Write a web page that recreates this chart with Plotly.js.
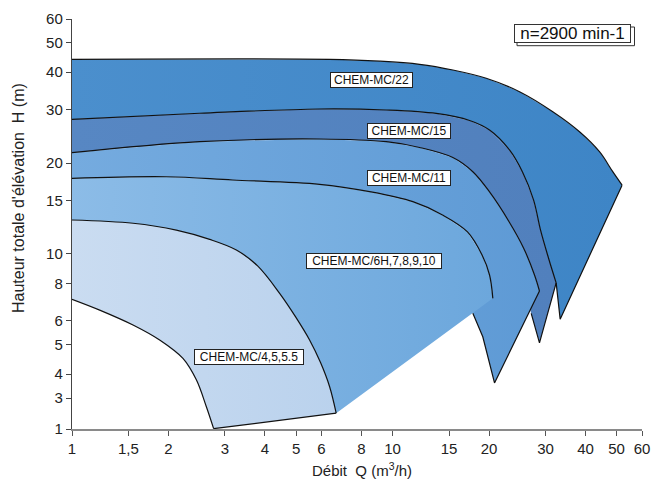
<!DOCTYPE html>
<html>
<head>
<meta charset="utf-8">
<script src="https://cdn.plot.ly/plotly-3.0.1.min.js"></script>
<style>html,body{margin:0;padding:0;background:#fff}#chart{width:654px;height:479px}</style>
</head>
<body>
<div id="chart"></div>
<script>
// Pump families (largest first)
const families = ["CHEM-MC/22", "CHEM-MC/15", "CHEM-MC/11", "CHEM-MC/6H,7,8,9,10", "CHEM-MC/4,5,5.5"];

// Upper (max. impeller) curves, Q in m3/h, H in m (last point = right tip)
const topQ22 = [1, 6.36, 9.11, 12.14, 15.42, 19.60, 24.89, 31.61, 38.3, 44.21, 48.63, 52.0];
const topH22 = [44.1, 44.1, 43.5, 42.47, 40.67, 38.18, 34.47, 29.59, 25.40, 21.81, 18.73, 16.9];
const topQ15 = [1, 2.50, 5.92, 9.56, 13.69, 17.39, 20.07, 23.16, 25.43, 27.53, 28.94, 30.65, 32.39];
const topH15 = [27.93, 29.24, 30.21, 29.98, 29.20, 27.67, 25.73, 22.10, 18.68, 15.10, 12.01, 9.70, 8.02];
const topQ11 = [1, 2.50, 5.92, 9.56, 12.14, 15.42, 17.80, 20.07, 23.09, 25.62, 27.72, 28.73];
const topH11 = [21.65, 23.54, 24.03, 23.54, 22.53, 20.87, 18.73, 16.05, 12.79, 10.47, 8.52, 7.54];
const topQ6 = [1, 1.97, 3.17, 5.92, 8.48, 11.57, 14.32, 17.13, 19.02, 20.07, 20.55];
const topH6 = [17.81, 18.02, 17.58, 17.01, 16.08, 14.90, 13.46, 11.83, 9.92, 8.52, 7.13];
const topQ4 = [1, 1.55, 2.116, 2.688, 3.256, 3.793, 4.443, 4.984, 5.51, 5.965, 6.36, 6.67];
const topH4 = [12.96, 12.64, 12.0, 11.18, 10.31, 9.13, 7.41, 6.19, 5.19, 4.36, 3.64, 2.97];

// Visible lower edges: bottom vertex, then min. impeller edge going back up-left
const botQ22 = [33.33];
const botH22 = [6.08];
const botQ15 = [28.73, 27.07];
const botH15 = [5.08, 6.36];
const botQ11 = [20.80, 19.12, 17.80];
const botH11 = [3.74, 5.32, 6.36];
const botQ6 = [];
const botH6 = [];
const botQ4 = [2.766, 2.625, 2.443, 2.219, 1.877, 1.55, 1.22, 1];
const botH4 = [2.64, 3.12, 3.83, 4.51, 5.19, 5.82, 6.52, 7.08];
// where a lower edge continues hidden under the next family
const hidQ = [[], [25.80], [16.18], [], []];
const hidH = [[], [7.60], [7.04], [], []];

// Axis ticks
const xTickVals = [1, 1.5, 2, 3, 4, 5, 6, 8, 10, 15, 20, 30, 40, 50, 60];
const xTickText = ["1", "1,5", "2", "3", "4", "5", "6", "8", "10", "15", "20", "30", "40", "50", "60"];
// the printed scale is compressed below 4: "1" and "3" sit at these positions of the log scale
const yTickVals = [2.633, 3.33, 4, 5, 6, 8, 10, 15, 20, 30, 40, 50, 60];
const yTickText = ["1", "3", "4", "5", "6", "8", "10", "15", "20", "30", "40", "50", "60"];

const fills = ["#468bc9", "#5583c0", "#69a4db", "#80b6e4", "#c4d9ef"];
const gradLeft = ["#4b8fcd", "#5787c3", "#75abdf", "#8cbce7", "#cadcf1"];
const gradRight = ["#3e85c6", "#5180bd", "#5e9ad5", "#6ca7dc", "#bad2ed"];

const tops = [[topQ22, topH22], [topQ15, topH15], [topQ11, topH11], [topQ6, topH6], [topQ4, topH4]];
const bots = [[botQ22, botH22], [botQ15, botH15], [botQ11, botH11], [botQ6, botH6], [botQ4, botH4]];
const N = families.length;

const traces = [];
// filled areas, back to front
families.forEach((name, i) => {
  let xs = tops[i][0].concat(bots[i][0], hidQ[i]);
  let ys = tops[i][1].concat(bots[i][1], hidH[i]);
  if (i < N - 1) {
    xs = xs.concat(tops[i + 1][0].slice().reverse());
    ys = ys.concat(tops[i + 1][1].slice().reverse());
  }
  traces.push({
    type: "scatter", mode: "lines", name: name,
    x: xs, y: ys, fill: "toself", fillcolor: fills[i],
    fillgradient: {type: "horizontal", colorscale: [[0, gradLeft[i]], [1, gradRight[i]]]},
    line: {width: 0, color: fills[i]}, hoverinfo: "skip", showlegend: false
  });
});

const lineStyle = {color: "#111", width: 1.2};
// outlines: smooth impeller curves, straight edges
families.forEach((name, i) => {
  const tq = tops[i][0], th = tops[i][1];
  traces.push({type: "scatter", mode: "lines", x: tq, y: th,
    line: Object.assign({shape: "spline", smoothing: 1}, lineStyle), hoverinfo: "skip", showlegend: false});
  let eq = [tq[tq.length - 1]], eh = [th[th.length - 1]];
  if (i === N - 1) {
    eq.push(bots[i][0][0]); eh.push(bots[i][1][0]);
  } else {
    eq = eq.concat(bots[i][0]); eh = eh.concat(bots[i][1]);
    if (i === 0) { // min edge of the largest family runs up to the next tip
      const nq = tops[1][0], nh = tops[1][1];
      eq.push(nq[nq.length - 1]); eh.push(nh[nh.length - 1]);
    }
  }
  traces.push({type: "scatter", mode: "lines", x: eq, y: eh,
    line: Object.assign({shape: "linear"}, lineStyle), hoverinfo: "skip", showlegend: false});
});
// lower curve of the smallest family
traces.push({type: "scatter", mode: "lines", x: botQ4, y: botH4,
  line: Object.assign({shape: "spline", smoothing: 1}, lineStyle), hoverinfo: "skip", showlegend: false});

const F = "Liberation Sans, Arial, Helvetica, sans-serif";
const px = v => (v - 72) / 570;
const py = v => (429 - v) / 410;

function box(text, cx, cy, w) {
  return {
    xref: "paper", yref: "paper", x: px(cx), y: py(cy), xanchor: "center", yanchor: "middle",
    text: text, showarrow: false,
    font: {family: F, size: 12, color: "#111"}, bgcolor: "#fff", bordercolor: "#222",
    borderwidth: 1, borderpad: 1, width: w, height: 12, align: "center"
  };
}

const layout = {
  width: 654, height: 479,
  margin: {l: 72, r: 12, t: 19, b: 50},
  paper_bgcolor: "#fff", plot_bgcolor: "#fff",
  showlegend: false,
  xaxis: {
    type: "log", range: [0, Math.log10(60)],
    tickvals: xTickVals, ticktext: xTickText,
    showgrid: false, zeroline: false,
    showline: true, linecolor: "#8a8a8a", linewidth: 2,
    ticks: "outside", ticklen: 5, tickcolor: "#555", tickwidth: 1,
    tickfont: {family: F, size: 15, color: "#222"}
  },
  yaxis: {
    type: "log", range: [Math.log10(2.633), Math.log10(60)],
    tickvals: yTickVals, ticktext: yTickText,
    showgrid: false, zeroline: false,
    showline: true, linecolor: "#444", linewidth: 1.2,
    ticks: "outside", ticklen: 5, tickcolor: "#444", tickwidth: 1,
    tickfont: {family: F, size: 15, color: "#222"}
  },
  shapes: [
    {type: "rect", xref: "paper", yref: "paper",
     x0: px(517), x1: px(634.5), y0: py(45.7), y1: py(27),
     line: {color: "#333", width: 1}, fillcolor: "#fff", layer: "above"}
  ],
  annotations: [
    box(families[0], 371.5, 79.5, 79),
    box(families[1], 408.8, 130.8, 80),
    box(families[2], 408.8, 177.5, 80),
    box(families[3], 373.7, 261.2, 132),
    box(families[4], 249.2, 356.5, 106),
    {xref: "paper", yref: "paper", x: px(572.8), y: py(33.3), xanchor: "center", yanchor: "middle",
     text: "n=2900 min-1", showarrow: false,
     font: {family: F, size: 17, color: "#111"}, bgcolor: "#fff", bordercolor: "#333",
     borderwidth: 1, borderpad: 0, width: 115, height: 17},
    {xref: "paper", yref: "paper", x: px(18), y: py(198), xanchor: "center", yanchor: "middle",
     text: "Hauteur totale d'élévation  H (m)",
     textangle: -90, showarrow: false, font: {family: F, size: 16, color: "#222"}},
    {xref: "paper", yref: "paper", x: px(361.5), y: py(469), xanchor: "center", yanchor: "middle",
     text: "Débit  Q (m<sup>3</sup>/h)",
     showarrow: false, font: {family: F, size: 15, color: "#222"}}
  ]
};

Plotly.newPlot("chart", traces, layout, {staticPlot: true, displayModeBar: false});
</script>
</body>
</html>
